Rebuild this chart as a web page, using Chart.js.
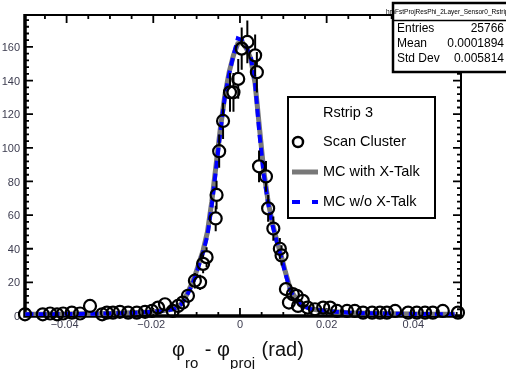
<!DOCTYPE html>
<html><head><meta charset="utf-8">
<script src="https://cdn.jsdelivr.net/npm/chart.js@4/dist/chart.umd.min.js"></script>
<style>html,body{margin:0;padding:0;background:#fff;}#wrap{width:506px;height:369px;}</style>
</head><body><div id="wrap"><canvas id="c" width="506" height="369"></canvas></div>
<script>
// ---- data ----
const dataX = [-0.0496,-0.0455,-0.0438,-0.0422,-0.0408,-0.0388,-0.0369,-0.0346,-0.0318,-0.0307,
  -0.0293,-0.0277,-0.0258,-0.0238,-0.0219,-0.0203,-0.0189,-0.0173,-0.0155,-0.0143,
  -0.0132,-0.0120,-0.0104,-0.0092,-0.0085,-0.0077,-0.0056,-0.0054,-0.0048,-0.0039,
  -0.0023,-0.0015,-0.0004,0.0004,0.0017,0.0035,0.0039,0.0044,0.0060,0.0065,
  0.0077,0.0092,0.0096,0.0106,0.0113,0.0122,0.0131,0.0134,0.0145,0.0156,
  0.0173,0.0192,0.0208,0.0224,0.0247,0.0265,0.0284,0.0305,0.0323,0.0339,
  0.0358,0.0388,0.0408,0.0427,0.0445,0.0468,0.0503];
const dataY = [1,1,1.5,1,1.5,2,1.5,6,1,2,
  2,2.5,2,2,2.5,3,5,7,3,6,
  8,12,21,20,31,35,58,72,98,116,
  133,133,141,159,163,155,145,89,83,64,
  52,40,36,16,8,13,12,6,9,5,
  4,5,5,3,3,3,2,2,2,2,
  3,2,2,2,2,3,2];
const mcX = [-0.0495,-0.045,-0.04,-0.035,-0.03,-0.025,-0.022,-0.02,-0.018,-0.0165,-0.0155,-0.0145,-0.0135,
  -0.0125,-0.0115,-0.0105,-0.0095,-0.0085,-0.0075,-0.0065,-0.0055,-0.0045,-0.0035,-0.0025,-0.0015,-0.0005,
  0.0005,0.0015,0.0025,0.0035,0.0045,0.0055,0.0065,0.0075,0.0085,0.0095,0.0105,0.0115,0.0125,
  0.0135,0.0145,0.0155,0.0165,0.018,0.02,0.022,0.025,0.03,0.035,0.04,0.045,0.0495];
const mcWithXtalk = [1,1,1.2,1.3,1.5,1.9,2.3,2.6,3.1,3.6,4.2,5.2,7.5,
  11.5,17,23,31,39,50,68,90,112,131,145,155,162,
  163,159,153,138,112,86,68,55,45,36,26,17,12,
  8.5,6.3,5.2,4.2,3.6,3,2.5,2,1.6,1.4,1.2,1.1,1];
const mcWithoutXtalk = [1,1,1.2,1.3,1.5,1.8,2.2,2.5,3,3.5,4,5,7,
  11,16,22,30,38,48,66,88,110,130,144,155,165,
  164,160,154,138,108,84,67,54,44,35,25,16,11,
  8,6,5,4,3.5,3,2.5,2,1.6,1.4,1.2,1.1,1];
const xTickValues = [-0.04,-0.02,0,0.02,0.04];
const xTickLabels = ["\u22120.04","\u22120.02","0","0.02","0.04"];
const yTickValues = [0,20,40,60,80,100,120,140,160];
const seriesNames = ["Scan Cluster","MC with X-Talk","MC w/o X-Talk"];
const legendTitle = "Rstrip 3";
const statsTitle = "hmFstProjResPhi_2Layer_Sensor0_Rstrip3";
const statsRows = [["Entries","25766"],["Mean","0.0001894"],["Std Dev","0.005814"]];

const FONT = '"Liberation Sans", Arial, sans-serif';
const TICKCOL = '#3d3d50';
const MARKER_R = 6;

const decor = {
  id: 'decor',
  beforeDatasetsDraw(chart) {
    const {ctx, chartArea: a, scales: {x, y}} = chart;
    ctx.save();
    ctx.strokeStyle = '#000';
    ctx.lineWidth = 1.8;
    for (let k = -9; k <= 10; k++) {
      const v = k * 0.005;
      const px = x.getPixelForValue(v);
      if (px < a.left + 1 || px > a.right - 1) continue;
      const major = Math.abs(k % 4) === 0;
      const len = major ? 8 : 4;
      ctx.beginPath();
      ctx.moveTo(px, a.bottom); ctx.lineTo(px, a.bottom - len);
      ctx.moveTo(px, a.top); ctx.lineTo(px, a.top + len);
      ctx.stroke();
    }
    for (let v = 4; v < 179; v += 4) {
      const py = y.getPixelForValue(v);
      const major = v % 20 === 0;
      const len = major ? 8 : 4;
      ctx.beginPath();
      ctx.moveTo(a.left, py); ctx.lineTo(a.left + len, py);
      ctx.moveTo(a.right, py); ctx.lineTo(a.right - len, py);
      ctx.stroke();
    }
    ctx.lineWidth = 2;
    ctx.beginPath();
    ctx.moveTo(a.left, a.top); ctx.lineTo(a.right, a.top); ctx.lineTo(a.right, a.bottom);
    ctx.stroke();
    ctx.lineWidth = 3.5;
    ctx.beginPath();
    ctx.moveTo(a.left, a.top - 1); ctx.lineTo(a.left, a.bottom);
    ctx.lineTo(a.right + 1, a.bottom);
    ctx.stroke();
    ctx.fillStyle = TICKCOL;
    ctx.font = '11px ' + FONT;
    ctx.textAlign = 'center'; ctx.textBaseline = 'middle';
    xTickValues.forEach((v, i) => {
      ctx.fillText(xTickLabels[i], x.getPixelForValue(v) - (v < 0 ? 2 : 0), a.bottom + 9);
    });
    ctx.textAlign = 'right';
    yTickValues.forEach(v => {
      ctx.fillText(String(v), a.left - 5, y.getPixelForValue(v) + 1);
    });
    ctx.fillStyle = '#111';
    ctx.textAlign = 'left'; ctx.textBaseline = 'alphabetic';
    let cx = 172;
    const big = '20px ' + FONT, small = '15px ' + FONT;
    const parts = [["\u03c6", big, 356], ["ro", small, 368], [" - \u03c6", big, 356], ["proj", small, 368], [" (rad)", big, 356]];
    parts.forEach(p => {
      ctx.font = p[1];
      ctx.fillText(p[0], cx, p[2]);
      cx += ctx.measureText(p[0]).width + (p[1] === small ? 1 : 0);
    });
    ctx.restore();
  },
  afterDatasetsDraw(chart) {
    const {ctx, scales: {x, y}} = chart;
    ctx.save();
    ctx.strokeStyle = '#000';
    ctx.lineWidth = 2;
    const r = MARKER_R;
    dataX.forEach((xv, i) => {
      const v = dataY[i];
      const e = Math.sqrt(v);
      const px = x.getPixelForValue(xv);
      const cy = y.getPixelForValue(v);
      const top = y.getPixelForValue(v + e);
      const bot = Math.min(y.getPixelForValue(Math.max(v - e, 0)), chart.chartArea.bottom);
      ctx.beginPath();
      if (top < cy - r) { ctx.moveTo(px, top); ctx.lineTo(px, cy - r); }
      if (bot > cy + r) { ctx.moveTo(px, cy + r); ctx.lineTo(px, bot); }
      ctx.stroke();
    });
    ctx.restore();
  },
  afterDraw(chart) {
    const ctx = chart.ctx;
    const ds = chart.data.datasets;
    ctx.save();
    ctx.fillStyle = '#fff';
    ctx.fillRect(288, 97, 147, 121);
    ctx.strokeStyle = '#000'; ctx.lineWidth = 2;
    ctx.strokeRect(288, 97, 147, 121);
    ctx.fillStyle = '#000';
    ctx.font = '14.5px ' + FONT;
    ctx.textAlign = 'left'; ctx.textBaseline = 'middle';
    ctx.fillText(legendTitle, 323, 113);
    ctx.lineWidth = 2.5; ctx.strokeStyle = ds[0].borderColor;
    ctx.beginPath(); ctx.arc(298, 142, 5, 0, Math.PI * 2); ctx.stroke();
    ctx.fillText(seriesNames[0], 323, 142);
    ctx.strokeStyle = ds[2].borderColor; ctx.lineWidth = ds[2].borderWidth;
    ctx.beginPath(); ctx.moveTo(292, 172); ctx.lineTo(318, 172); ctx.stroke();
    ctx.fillText(seriesNames[1], 323, 172);
    ctx.strokeStyle = ds[1].borderColor; ctx.lineWidth = ds[1].borderWidth;
    ctx.setLineDash([8, 12]);
    ctx.beginPath(); ctx.moveTo(292, 202); ctx.lineTo(318, 202); ctx.stroke();
    ctx.setLineDash([]);
    ctx.fillText(seriesNames[2], 323, 202);
    ctx.fillStyle = '#fff';
    ctx.fillRect(393, 3, 120, 69);
    ctx.strokeStyle = '#000'; ctx.lineWidth = 2.5;
    ctx.strokeRect(393, 3, 120, 69);
    ctx.lineWidth = 1.5;
    ctx.beginPath(); ctx.moveTo(393, 20.5); ctx.lineTo(506, 20.5); ctx.stroke();
    ctx.fillStyle = '#000';
    ctx.font = '6.5px ' + FONT;
    ctx.fillText(statsTitle, 386, 12.5);
    ctx.font = '12px ' + FONT;
    statsRows.forEach((row, i) => {
      const yy = 28.5 + i * 15;
      ctx.textAlign = 'left'; ctx.fillText(row[0], 397, yy);
      ctx.textAlign = 'right'; ctx.fillText(row[1], 504, yy);
    });
    ctx.restore();
  }
};

new Chart(document.getElementById('c'), {
  type: 'scatter',
  data: {
    datasets: [
      {
        label: seriesNames[0],
        data: dataX.map((xv, i) => ({x: xv, y: dataY[i]})),
        showLine: false,
        pointStyle: 'circle',
        pointRadius: MARKER_R,
        pointBorderWidth: 2.2,
        borderColor: '#000',
        pointBorderColor: '#000',
        pointBackgroundColor: 'rgba(0,0,0,0)',
        backgroundColor: 'rgba(0,0,0,0)',
        clip: false
      },
      {
        label: seriesNames[2],
        data: mcX.map((xv, i) => ({x: xv, y: mcWithoutXtalk[i]})),
        showLine: true,
        borderColor: '#0000ff',
        borderWidth: 4,
        borderDash: [8, 5],
        pointRadius: 0,
        tension: 0,
        fill: false
      },
      {
        label: seriesNames[1],
        data: mcX.map((xv, i) => ({x: xv, y: mcWithXtalk[i]})),
        showLine: true,
        borderColor: '#787878',
        borderWidth: 5,
        pointRadius: 0,
        tension: 0,
        fill: false
      }
    ]
  },
  options: {
    responsive: false,
    animation: false,
    devicePixelRatio: 1,
    layout: {padding: {left: 25, right: 45, top: 15, bottom: 53}},
    scales: {
      x: {type: 'linear', min: -0.0496, max: 0.0510, display: false},
      y: {type: 'linear', min: 0, max: 179, display: false}
    },
    plugins: {legend: {display: false}, tooltip: {enabled: false}}
  },
  plugins: [decor]
});
</script>
</body></html>
